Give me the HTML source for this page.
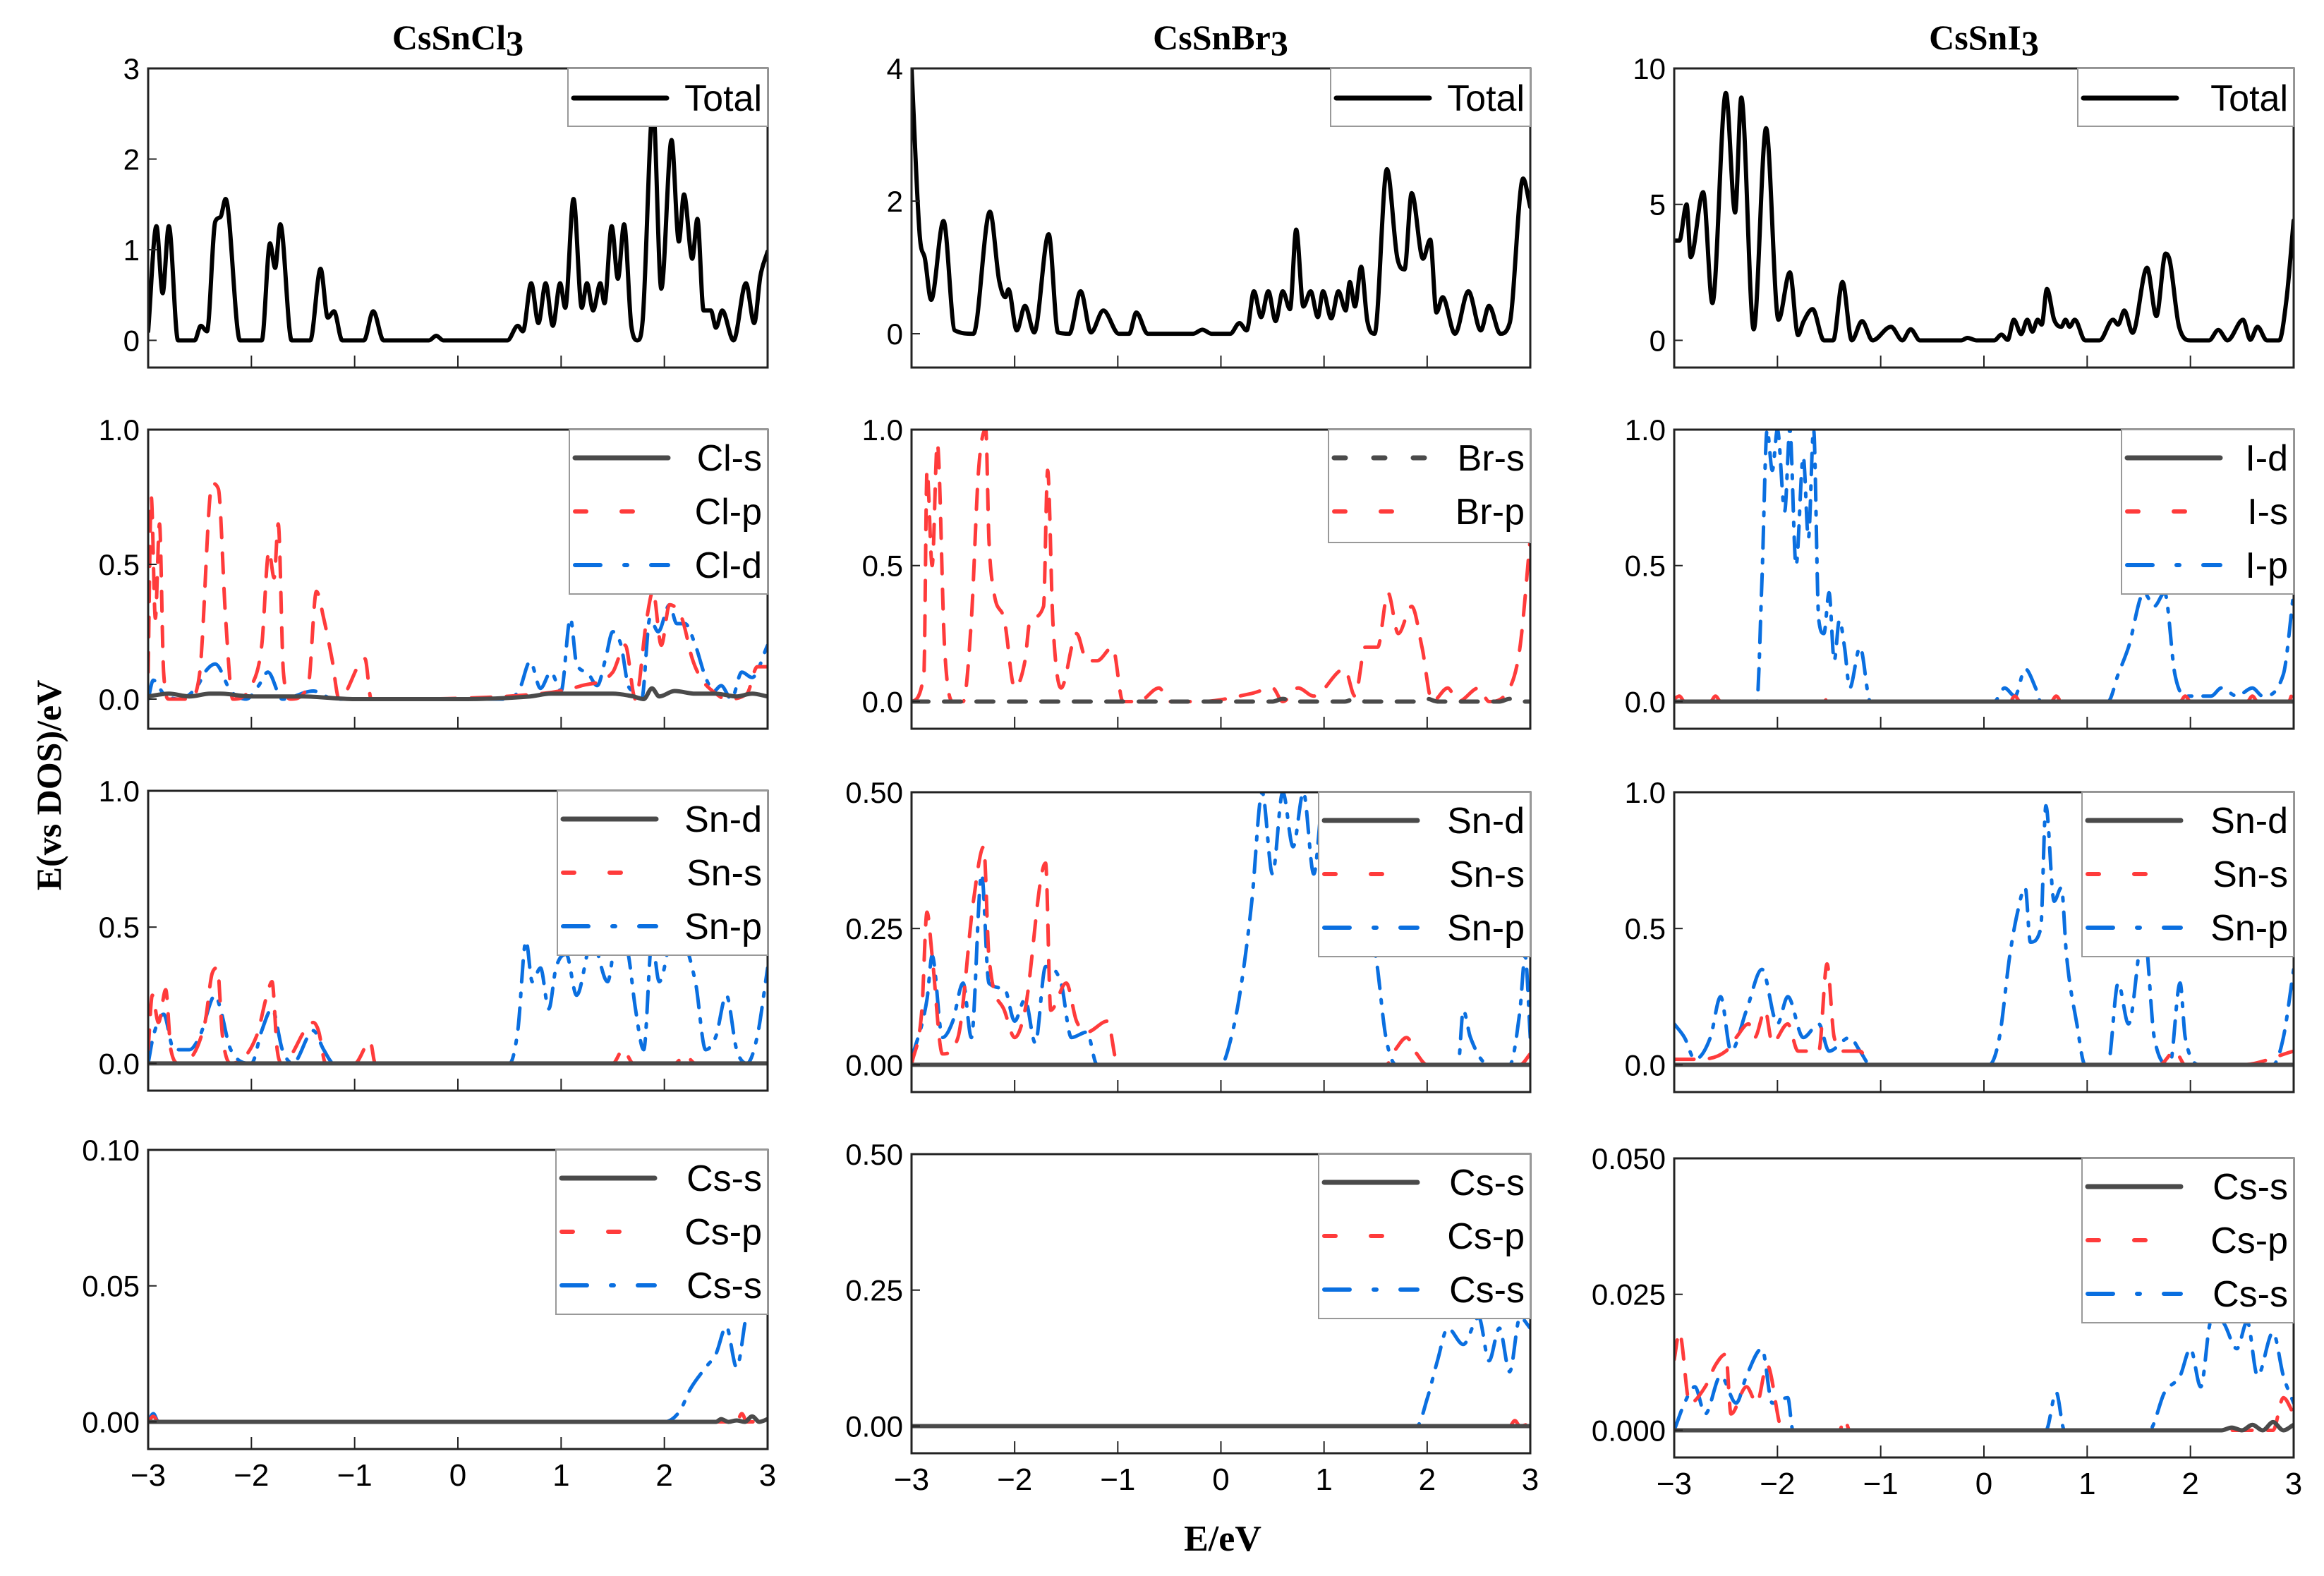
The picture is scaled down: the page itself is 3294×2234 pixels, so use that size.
<!DOCTYPE html>
<html><head><meta charset="utf-8"><style>
html,body{margin:0;padding:0;background:#fff;}
svg{display:block;}
text{font-family:"Liberation Sans",sans-serif;}
.ser{font-family:"Liberation Serif",serif;font-weight:bold;}
</style></head><body>
<svg id="fig" xmlns="http://www.w3.org/2000/svg" width="3294" height="2234" viewBox="0 0 3294 2234">
<text class="ser" x="649" y="70" font-size="50" text-anchor="middle">CsSnCl<tspan dy="8">3</tspan></text>
<text class="ser" x="1730" y="70" font-size="50" text-anchor="middle">CsSnBr<tspan dy="8">3</tspan></text>
<text class="ser" x="2812" y="70" font-size="50" text-anchor="middle">CsSnI<tspan dy="8">3</tspan></text>
<text class="ser" x="0" y="0" font-size="50" text-anchor="middle" transform="translate(86,1113) rotate(-90)">E(vs DOS)/eV</text>
<text class="ser" x="1733" y="2198" font-size="52" text-anchor="middle">E/eV</text>
<g id="panels"></g>
</svg>
<script>
// ---------- data (energy in eV, DOS values) ----------
const clTotE=[-3,-2.92,-2.86,-2.8,-2.71,-2.55,-2.49,-2.43,-2.35,-2.3,-2.25,-2.11,-1.9,-1.82,-1.77,-1.72,-1.61,-1.43,-1.33,-1.26,-1.2,-1.12,-0.91,-0.82,-0.72,-0.28,-0.21,-0.14,0.48,0.58,0.63,0.71,0.78,0.85,0.92,0.99,1.04,1.12,1.2,1.25,1.31,1.38,1.42,1.49,1.55,1.61,1.68,1.74,1.79,1.89,1.97,2.07,2.14,2.19,2.27,2.32,2.38,2.45,2.5,2.56,2.67,2.79,2.87,2.93,3];
const clTotV=[0.1,1.26,0.52,1.26,0,0,0.16,0.1,1.31,1.36,1.56,0,0,1.07,0.8,1.28,0,0,0.79,0.25,0.32,0,0,0.32,0,0,0.05,0,0,0.16,0.1,0.63,0.19,0.63,0.16,0.63,0.36,1.56,0.36,0.63,0.33,0.63,0.41,1.26,0.68,1.28,0.16,0,0.22,2.57,0.57,2.21,1.09,1.61,0.9,1.34,0.33,0.33,0.14,0.33,0,0.63,0.19,0.71,0.98];
const brTotE=[-3,-2.92,-2.87,-2.81,-2.69,-2.58,-2.4,-2.24,-2.15,-2.09,-2.06,-1.98,-1.9,-1.81,-1.67,-1.58,-1.47,-1.36,-1.26,-1.14,-0.99,-0.89,-0.82,-0.71,-0.27,-0.18,-0.09,0.09,0.18,0.25,0.32,0.39,0.46,0.53,0.6,0.67,0.73,0.8,0.87,0.94,0.99,1.07,1.14,1.21,1.25,1.3,1.36,1.42,1.49,1.61,1.71,1.78,1.85,1.96,2.03,2.09,2.15,2.27,2.4,2.52,2.6,2.71,2.8,2.93,3];
const brTotV=[4,1.47,1.13,0.51,1.7,0.05,0,1.84,0.8,0.55,0.67,0.05,0.42,0.02,1.5,0.02,0,0.64,0.02,0.35,0,0,0.32,0,0,0.06,0,0,0.16,0.05,0.64,0.25,0.64,0.19,0.64,0.37,1.57,0.41,0.64,0.25,0.64,0.23,0.64,0.35,0.78,0.41,1.01,0.19,0,2.48,1.15,0.97,2.12,1.13,1.42,0.32,0.55,0,0.64,0.05,0.42,0,0.16,2.34,1.91];
const iTotE=[-3,-2.95,-2.88,-2.84,-2.72,-2.63,-2.5,-2.41,-2.35,-2.23,-2.11,-1.99,-1.88,-1.8,-1.75,-1.66,-1.55,-1.46,-1.37,-1.28,-1.18,-1.08,-0.9,-0.79,-0.71,-0.62,-0.22,-0.16,-0.07,0.1,0.17,0.23,0.29,0.36,0.42,0.47,0.52,0.56,0.61,0.68,0.75,0.79,0.83,0.88,0.98,1.12,1.25,1.3,1.36,1.44,1.58,1.67,1.76,1.8,1.89,2,2.18,2.27,2.36,2.51,2.58,2.65,2.74,2.86,2.93,3];
const iTotV=[3.67,3.67,5,3.06,5.45,1.37,9.1,4.7,8.93,0.41,7.8,0.76,2.5,0.19,0.67,1.15,0,0,2.15,0,0.71,0,0.5,0,0.41,0,0,0.09,0,0,0.21,0.02,0.76,0.23,0.76,0.32,0.76,0.58,1.89,0.76,0.5,0.76,0.5,0.76,0,0,0.76,0.58,1.1,0.28,2.67,0.89,3.19,2.93,0.5,0,0,0.38,0,0.76,0.02,0.5,0,0,1.5,4.41];

const clSE=[-3,-2.8,-2.6,-2.4,-2.3,-2.0,-1.5,-1.0,0,0.7,0.9,1.1,1.3,1.5,1.7,1.8,1.88,1.95,2.1,2.3,2.5,2.7,2.85,3];
const clSV=[0.01,0.02,0.01,0.02,0.02,0.01,0.01,0,0,0.01,0.02,0.02,0.02,0.02,0.01,0,0.04,0.01,0.03,0.02,0.02,0.01,0.02,0.01];
const clPE=[-3,-2.97,-2.93,-2.89,-2.85,-2.8,-2.6,-2.5,-2.38,-2.32,-2.25,-2.18,-2.0,-1.9,-1.83,-1.78,-1.74,-1.69,-1.62,-1.45,-1.37,-1.3,-1.22,-1.15,-0.9,-0.84,0.8,1.2,1.5,1.62,1.72,1.83,1.89,1.97,2.05,2.17,2.27,2.35,2.5,2.6,2.8,2.9,3];
const clPV=[0.1,0.75,0.3,0.65,0.1,0,0,0.1,0.8,0.78,0.3,0,0.05,0.2,0.55,0.45,0.65,0.1,0,0.05,0.4,0.3,0.15,0,0.15,0,0.02,0.05,0.1,0.2,0,0.3,0.4,0.2,0.35,0.3,0.15,0.08,0.02,0,0.02,0.12,0.12];
const clDE=[-3,-2.95,-2.85,-2.7,-2.52,-2.45,-2.35,-2.2,-2.05,-1.93,-1.84,-1.7,-1.4,-1.2,0.5,0.6,0.7,0.8,0.9,1.0,1.09,1.15,1.25,1.35,1.43,1.5,1.58,1.65,1.7,1.78,1.86,1.94,2.05,2.12,2.2,2.3,2.4,2.48,2.55,2.65,2.75,2.85,3];
const clDV=[0,0.07,0.02,0,0.05,0.1,0.13,0.03,0,0.05,0.1,0,0.03,0,0,0.04,0.14,0.04,0.1,0.03,0.3,0.13,0.1,0.05,0.15,0.25,0.2,0.05,0.03,0,0.3,0.25,0.35,0.28,0.28,0.2,0.08,0.03,0.05,0,0.1,0.08,0.2];

const snDE=[-3,3];
const snDV=[0,0];
const sn1SE=[-3,-2.96,-2.9,-2.83,-2.78,-2.7,-2.45,-2.38,-2.33,-2.28,-2.2,-1.95,-1.85,-1.8,-1.75,-1.7,-1.4,-1.35,-1.28,-1.0,-0.85,-0.8,1.5,1.6,1.7,2.1,2.2,2.3,3];
const sn1SV=[0.05,0.25,0.15,0.27,0.05,0,0.15,0.33,0.35,0.1,0,0.1,0.25,0.3,0.05,0,0.15,0.12,0,0,0.08,0,0,0.05,0,0,0.03,0,0];
const sn1PE=[-3,-2.95,-2.85,-2.75,-2.6,-2.5,-2.35,-2.3,-2.2,-2.0,-1.9,-1.8,-1.7,-1.6,-1.4,-1.3,-1.2,0.5,0.58,0.66,0.72,0.8,0.88,0.95,1.05,1.15,1.3,1.45,1.55,1.65,1.72,1.8,1.88,1.95,2.1,2.3,2.4,2.5,2.6,2.7,2.8,2.9,3];
const sn1PV=[0,0.1,0.18,0.05,0.05,0.1,0.25,0.2,0.05,0,0.12,0.2,0.05,0,0.12,0.05,0,0,0.12,0.45,0.3,0.35,0.2,0.35,0.4,0.25,0.45,0.3,0.5,0.4,0.2,0.05,0.45,0.3,0.5,0.3,0.05,0.1,0.25,0.05,0,0.1,0.35];

const cs1SE=[-3,2.5,2.55,2.62,2.7,2.78,2.85,2.92,3];
const cs1SV=[0,0,0.001,0,0.0005,0,0.002,0,0.001];
const cs1PE=[-3,-2.95,-2.9,2.7,2.75,2.8,3];
const cs1PV=[0,0.002,0,0,0.003,0,0];
const cs1BE=[-3,-2.95,-2.9,2.0,2.15,2.25,2.4,2.5,2.6,2.7,2.8,2.9,3];
const cs1BV=[0,0.003,0,0,0.004,0.012,0.02,0.025,0.035,0.02,0.04,0.045,0.05];

const brSE=[-3,0.5,0.6,0.7,1.2,1.3,1.4,1.9,2.0,2.1,2.7,2.8,2.9,3];
const brSV=[0,0,0.01,0,0,0.01,0,0,0.01,0,0,0.01,0,0];
const brPE=[-3,-2.88,-2.85,-2.8,-2.75,-2.68,-2.6,-2.5,-2.42,-2.35,-2.28,-2.25,-2.2,-2.1,-2.0,-1.9,-1.85,-1.72,-1.68,-1.63,-1.55,-1.4,-1.3,-1.2,-1.05,-0.95,-0.8,-0.6,-0.5,-0.2,0.3,0.5,0.6,0.75,0.9,1.2,1.3,1.4,1.52,1.62,1.72,1.85,1.95,2.05,2.2,2.3,2.5,2.6,2.8,2.9,3];
const brPV=[0,0.1,0.85,0.5,0.95,0.2,0,0,0.3,0.85,1.0,0.6,0.4,0.3,0.05,0.15,0.3,0.35,0.85,0.3,0.05,0.25,0.15,0.15,0.2,0,0,0.05,0,0,0.03,0.05,0,0.05,0.02,0.12,0.02,0.2,0.2,0.4,0.25,0.35,0.2,0,0.05,0,0.05,0,0.05,0.2,0.6];

const sn2SE=[-3,-2.9,-2.85,-2.8,-2.7,-2.55,-2.4,-2.3,-2.25,-2.1,-2.0,-1.9,-1.7,-1.65,-1.5,-1.4,-1.3,-1.1,-1.0,1.6,1.7,1.8,1.9,2.0,2.9,3];
const sn2SV=[0,0.1,0.28,0.2,0.02,0.05,0.3,0.4,0.2,0.1,0.05,0.1,0.37,0.1,0.15,0.08,0.06,0.08,0,0,0.03,0.05,0.02,0,0,0.02];
const sn2PE=[-3,-2.85,-2.8,-2.7,-2.6,-2.5,-2.42,-2.32,-2.25,-2.1,-2.0,-1.9,-1.8,-1.7,-1.55,-1.45,-1.3,-1.2,0,0.1,0.2,0.3,0.4,0.5,0.6,0.7,0.8,0.9,1.0,1.3,1.5,1.6,1.7,2.3,2.35,2.42,2.6,2.8,2.9,2.95,3];
const sn2PV=[0.01,0.12,0.2,0.05,0.08,0.15,0.05,0.35,0.15,0.14,0.08,0.12,0.04,0.18,0.15,0.05,0.06,0,0,0.05,0.15,0.3,0.5,0.35,0.5,0.4,0.5,0.35,0.5,0.3,0.2,0.05,0,0,0.1,0.05,0,0,0.1,0.2,0.05];

const cs2SE=[-3,3];
const cs2SV=[0,0];
const cs2PE=[-3,2.8,2.85,2.9,3];
const cs2PV=[0,0,0.01,0,0.005];
const cs2BE=[-3,1.9,2.0,2.1,2.2,2.35,2.5,2.6,2.7,2.8,2.9,3];
const cs2BV=[0,0,0.05,0.12,0.18,0.15,0.2,0.12,0.18,0.1,0.2,0.18];

const iDE=[-3,3];
const iDV=[0,0];
const iSE=[-3,-2.95,-2.9,-2.65,-2.6,-2.55,-1.55,-1.5,-1.45,0.25,0.3,0.35,0.65,0.7,0.75,1.9,1.95,2.0,2.55,2.6,2.65,2.95,3];
const iSV=[0.01,0.02,0,0,0.02,0,0,0.02,0,0,0.02,0,0,0.02,0,0,0.02,0,0,0.02,0,0,0.05];
const iPE=[-3,-2.2,-2.15,-2.1,-2.05,-2.0,-1.93,-1.88,-1.82,-1.75,-1.7,-1.65,-1.6,-1.55,-1.5,-1.45,-1.4,-1.35,-1.3,-1.2,-1.1,0.1,0.2,0.3,0.4,0.5,0.55,1.2,1.3,1.4,1.55,1.65,1.75,1.85,1.95,2.2,2.3,2.45,2.6,2.7,2.9,3];
const iPV=[0,0,0.45,1.0,0.85,1.0,0.7,1.0,0.5,0.9,0.6,1.0,0.3,0.25,0.4,0.15,0.3,0.2,0.05,0.2,0,0,0.05,0.02,0.12,0.05,0,0,0.1,0.2,0.4,0.35,0.4,0.1,0.02,0.02,0.05,0.02,0.05,0.02,0.1,0.4];

const sn3SE=[-3,-2.8,-2.5,-2.4,-2.28,-2.22,-2.12,-2.05,-1.9,-1.8,-1.6,-1.52,-1.45,-1.35,-1.2,-1.1,1.7,1.85,1.95,2.5,3];
const sn3SV=[0.02,0.02,0.05,0.1,0.15,0.1,0.2,0.08,0.15,0.05,0.05,0.37,0.1,0.05,0.05,0,0,0.05,0,0,0.05];
const sn3PE=[-3,-2.9,-2.8,-2.65,-2.55,-2.45,-2.3,-2.15,-2.0,-1.9,-1.75,-1.6,-1.5,-1.3,-1.2,-1.1,0.05,0.15,0.25,0.32,0.4,0.45,0.55,0.6,0.68,0.75,0.8,0.9,0.98,1.2,1.3,1.4,1.55,1.65,1.8,1.9,1.95,2.1,2.8,2.9,3];
const sn3PV=[0.15,0.1,0.02,0.1,0.25,0.05,0.2,0.35,0.15,0.25,0.1,0.15,0.05,0.1,0.05,0,0,0.1,0.4,0.55,0.65,0.45,0.5,0.95,0.6,0.65,0.4,0.15,0,0,0.3,0.15,0.5,0.1,0,0.3,0.1,0,0,0.1,0.35];

const cs3SE=[-3,2.3,2.4,2.5,2.6,2.7,2.8,2.9,3];
const cs3SV=[0,0,0.0005,0,0.001,0,0.0015,0,0.001];
const cs3PE=[-3,-2.95,-2.85,-2.7,-2.6,-2.5,-2.45,-2.3,-2.2,-2.1,-1.95,-1.4,-1.35,-1.3,2.8,2.9,3];
const cs3PV=[0.013,0.018,0.005,0.008,0.012,0.014,0.003,0.008,0.005,0.012,0,0,0.002,0,0,0.006,0.003];
const cs3BE=[-3,-2.9,-2.8,-2.7,-2.55,-2.4,-2.3,-2.15,-2.05,-1.9,-1.85,0.6,0.7,0.78,1.6,1.75,1.9,2.0,2.1,2.2,2.3,2.45,2.55,2.65,2.8,2.9,3];
const cs3BV=[0,0.005,0.008,0.003,0.01,0.005,0.01,0.015,0.005,0.006,0,0,0.007,0,0,0.007,0.01,0.015,0.008,0.02,0.02,0.015,0.02,0.01,0.018,0.01,0.005];

const xTickLabels=["\u22123","\u22122","\u22121","0","1","2","3"];
const xTickValues=[-3,-2,-1,0,1,2,3];

// ---------- styles ----------
const ST={
 total:{c:"#000",w:6,d:null},
 gray:{c:"#4a4a4a",w:6,d:null},
 grayDash:{c:"#4a4a4a",w:6,d:"24,22"},
 red:{c:"#ff3b3b",w:5,d:"28,22"},
 blue:{c:"#0a6fe0",w:5,d:"30,16,5,16"}
};
const cols=[{x0:210,x1:1088},{x0:1292,x1:2169},{x0:2373,x1:3251}];
const rows=[[97,521],[609,1033],[1121,1546],[1630,2054]];
const rowOff=[[0,0,0,0],[0,0,2,6],[0,0,2,12]];
const P=[
 {c:0,r:0,ymin:-0.3,ymax:3,ticks:[0,1,2,3],fmt:0,lw:283,ser:[["Total",clTotE,clTotV,"total"]]},
 {c:0,r:1,ymin:-0.11,ymax:1,ticks:[0,0.5,1],fmt:1,lw:281,ser:[["Cl-s",clSE,clSV,"gray"],["Cl-p",clPE,clPV,"red"],["Cl-d",clDE,clDV,"blue"]]},
 {c:0,r:2,ymin:-0.1,ymax:1,ticks:[0,0.5,1],fmt:1,lw:298,ser:[["Sn-d",snDE,snDV,"gray"],["Sn-s",sn1SE,sn1SV,"red"],["Sn-p",sn1PE,sn1PV,"blue"]]},
 {c:0,r:3,ymin:-0.01,ymax:0.1,ticks:[0,0.05,0.1],fmt:2,lw:300,ser:[["Cs-s",cs1SE,cs1SV,"gray"],["Cs-p",cs1PE,cs1PV,"red"],["Cs-s",cs1BE,cs1BV,"blue"]]},
 {c:1,r:0,ymin:-0.51,ymax:4,ticks:[0,2,4],fmt:0,lw:283,ser:[["Total",brTotE,brTotV,"total"]]},
 {c:1,r:1,ymin:-0.1,ymax:1,ticks:[0,0.5,1],fmt:1,lw:286,ser:[["Br-s",brSE,brSV,"grayDash"],["Br-p",brPE,brPV,"red"]]},
 {c:1,r:2,ymin:-0.05,ymax:0.5,ticks:[0,0.25,0.5],fmt:2,lw:300,ser:[["Sn-d",snDE,snDV,"gray"],["Sn-s",sn2SE,sn2SV,"red"],["Sn-p",sn2PE,sn2PV,"blue"]]},
 {c:1,r:3,ymin:-0.05,ymax:0.5,ticks:[0,0.25,0.5],fmt:2,lw:300,ser:[["Cs-s",cs2SE,cs2SV,"gray"],["Cs-p",cs2PE,cs2PV,"red"],["Cs-s",cs2BE,cs2BV,"blue"]]},
 {c:2,r:0,ymin:-1,ymax:10,ticks:[0,5,10],fmt:0,lw:306,ser:[["Total",iTotE,iTotV,"total"]]},
 {c:2,r:1,ymin:-0.1,ymax:1,ticks:[0,0.5,1],fmt:1,lw:244,ser:[["I-d",iDE,iDV,"gray"],["I-s",iSE,iSV,"red"],["I-p",iPE,iPV,"blue"]]},
 {c:2,r:2,ymin:-0.1,ymax:1,ticks:[0,0.5,1],fmt:1,lw:300,ser:[["Sn-d",snDE,snDV,"gray"],["Sn-s",sn3SE,sn3SV,"red"],["Sn-p",sn3PE,sn3PV,"blue"]]},
 {c:2,r:3,ymin:-0.005,ymax:0.05,ticks:[0,0.025,0.05],fmt:3,lw:300,ser:[["Cs-s",cs3SE,cs3SV,"gray"],["Cs-p",cs3PE,cs3PV,"red"],["Cs-s",cs3BE,cs3BV,"blue"]]}
];

const NS="http://www.w3.org/2000/svg";
const root=document.getElementById("panels");
function mk(tag,attrs,parent){const e=document.createElementNS(NS,tag);for(const k in attrs)e.setAttribute(k,attrs[k]);parent.appendChild(e);return e;}

// monotone cubic path (Fritsch-Carlson) through pixel points
function monoPath(xs,ys){
 const n=xs.length;
 if(n<3){return "M"+xs.map((x,i)=>x.toFixed(1)+","+ys[i].toFixed(1)).join(" L");}
 const d=[],m=new Array(n);
 for(let i=0;i<n-1;i++)d.push((ys[i+1]-ys[i])/(xs[i+1]-xs[i]));
 m[0]=d[0];m[n-1]=d[n-2];
 for(let i=1;i<n-1;i++){m[i]=(d[i-1]*d[i]<=0)?0:(d[i-1]+d[i])/2;}
 for(let i=0;i<n-1;i++){
  if(d[i]===0){m[i]=0;m[i+1]=0;continue;}
  const a=m[i]/d[i],b=m[i+1]/d[i],s=a*a+b*b;
  if(s>9){const t=3/Math.sqrt(s);m[i]=t*a*d[i];m[i+1]=t*b*d[i];}
 }
 let p="M"+xs[0].toFixed(1)+","+ys[0].toFixed(1);
 for(let i=0;i<n-1;i++){
  const h=(xs[i+1]-xs[i])/3;
  p+=" C"+(xs[i]+h).toFixed(1)+","+(ys[i]+m[i]*h).toFixed(1)+" "+(xs[i+1]-h).toFixed(1)+","+(ys[i+1]-m[i+1]*h).toFixed(1)+" "+xs[i+1].toFixed(1)+","+ys[i+1].toFixed(1);
 }
 return p;
}

P.forEach((p,pi)=>{
 const col=cols[p.c];const off=rowOff[p.c][p.r];
 const y0=rows[p.r][0]+off, y1=rows[p.r][1]+off;
 const sx=e=>col.x0+(e+3)/6*(col.x1-col.x0);
 const sy=v=>y1-(v-p.ymin)/(p.ymax-p.ymin)*(y1-y0);
 const g=mk("g",{},root);
 
 
 const clipId="clip"+pi;
 const cp=mk("clipPath",{id:clipId},g);
 mk("rect",{x:col.x0,y:y0,width:col.x1-col.x0,height:y1-y0},cp);
 const sg=mk("g",{"clip-path":"url(#"+clipId+")"},g);
 p.ser.slice().reverse().forEach(s=>{
  const st=ST[s[3]];
  const xs=s[1].map(sx), ys=s[2].map(sy);
  const pl=mk("path",{d:monoPath(xs,ys),fill:"none",stroke:st.c,"stroke-width":st.w,"stroke-linejoin":"round","stroke-linecap":"round"},sg);
  if(st.d)pl.setAttribute("stroke-dasharray",st.d);
  
  
 });
 const fr=mk("rect",{x:col.x0,y:y0,width:col.x1-col.x0,height:y1-y0,fill:"none",stroke:"#222","stroke-width":3},g);
 
 
 xTickValues.forEach((t,i)=>{
  if(i>0&&i<6)mk("line",{x1:sx(t),x2:sx(t),y1:y1,y2:y1-17,stroke:"#222","stroke-width":2},g);
  if(p.r===3){
   const tx=mk("text",{x:sx(t),y:y1+52,"font-size":44,"text-anchor":"middle"},g);
   tx.textContent=xTickLabels[i];
   
   
  }
 });
 p.ticks.forEach(t=>{
  mk("line",{x1:col.x0,x2:col.x0+12,y1:sy(t),y2:sy(t),stroke:"#222","stroke-width":2},g);
  const tx=mk("text",{x:col.x0-12,y:sy(t)+15,"font-size":42,"text-anchor":"end"},g);
  tx.textContent=t.toFixed(p.fmt);
  
  
 });
 const n=p.ser.length;
 const lh=n===1?82:(n===2?160:233);
 const lx=col.x1-p.lw;
 const lg=mk("g",{},g);
 
 
 mk("rect",{x:lx,y:y0,width:p.lw,height:lh,fill:"#fff",stroke:"#999","stroke-width":2},lg);
 p.ser.forEach((s,i)=>{
  const st=ST[s[3]];
  const cy=y0+(n===1?42:40+i*76);
  const ln=mk("line",{x1:lx+8,x2:lx+140,y1:cy,y2:cy,stroke:st.c,"stroke-width":st.w+1,"stroke-linecap":"round"},lg);
  if(st.d)ln.setAttribute("stroke-dasharray",s[3]==="blue"?"36,34,4,34":(s[3]==="red"?"16,50":"16,40"));
  
  
  const tx=mk("text",{x:col.x1-8,y:cy+18,"font-size":52,"text-anchor":"end"},lg);
  tx.textContent=s[0];
  
  
 });
});
</script>
</body></html>
